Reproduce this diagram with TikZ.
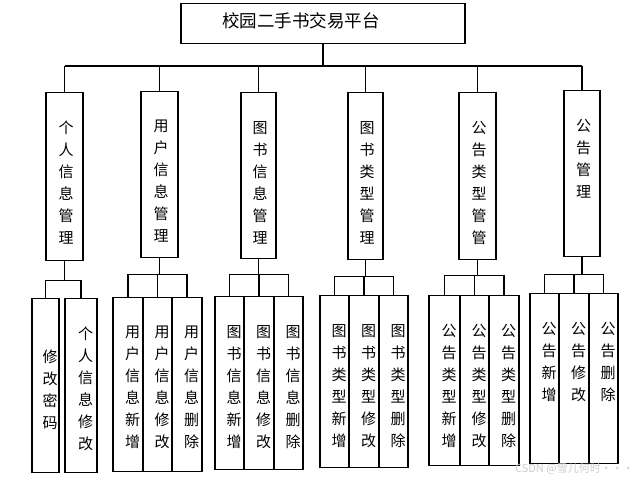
\documentclass[tikz,border=0pt]{standalone}
\usepackage{fontspec}
\setmainfont{Noto Sans CJK SC}
\usepackage{xcolor}
\usetikzlibrary{positioning, calc}
\definecolor{LineBlack}{RGB}{0, 0, 0}
\definecolor{MarkGray}{RGB}{205, 205, 205}

\tikzset{
  box/.style={draw=LineBlack, line width=1.1pt, inner sep=0pt, anchor=north},
  mod/.style={box},
  leaf/.style={box},
  vtext/.style={anchor=north, inner sep=0pt, align=center, yshift=-29pt,
                font=\fontsize{15}{22}\selectfont},
  l1lab/.style={label={[vtext, xshift=1.5pt]north:{#1}}},
  l2lab/.style={label={[vtext, xshift=4.5pt]north:{#1}}},
  link/.style={draw=LineBlack, line width=1.1pt},
}

\begin{document}
\begin{tikzpicture}[x=1pt, y=-1pt]
  \path[use as bounding box, fill=white] (0,0) rectangle (637,480);

  % root
  \node[box, minimum width=284pt, minimum height=40pt,
        label={[font=\fontsize{17.5}{20}\selectfont, xshift=-22pt, yshift=3pt]center:校园二手书交易平台}] (top) at (323,3) {};

  % modules
  \node[mod, minimum width=37pt, minimum height=168pt, l1lab={个\\人\\信\\息\\管\\理}] (geren) at (64.5,92) {};
  \node[mod, minimum width=37pt, minimum height=166pt, l1lab={用\\户\\信\\息\\管\\理}] (yonghu) at (159.5,91) {};
  \node[mod, minimum width=35pt, minimum height=166pt, l1lab={图\\书\\信\\息\\管\\理}] (tushu) at (258.5,92) {};
  \node[mod, minimum width=35pt, minimum height=167pt, l1lab={图\\书\\类\\型\\管\\理}] (leixing) at (365.5,92) {};
  \node[mod, minimum width=37pt, minimum height=167pt, l1lab={公\\告\\类\\型\\管\\管}] (gglx) at (477.5,92) {};
  \node[mod, minimum width=36pt, minimum height=166pt, l1lab={公\\告\\管\\理}] (gonggao) at (582,90) {};

  % functions
  \node[leaf, minimum width=27pt, minimum height=174pt,
        label={[vtext, xshift=4.5pt, yshift=-23pt]north:{修\\改\\密\\码}}] (mima) at (45.5,298) {};
  \node[leaf, minimum width=32pt, minimum height=174pt, l2lab={个\\人\\信\\息\\修\\改}] (grxg) at (81,298) {};

  \node[leaf, minimum width=30pt, minimum height=174pt, l2lab={用\\户\\信\\息\\新\\增}] (yhxz) at (128,297) {};
  \node[leaf, minimum width=29pt, minimum height=174pt, l2lab={用\\户\\信\\息\\修\\改}] (yhxg) at (157.5,297) {};
  \node[leaf, minimum width=30pt, minimum height=174pt, l2lab={用\\户\\信\\息\\删\\除}] (yhsc) at (187,297) {};

  \node[leaf, minimum width=29pt, minimum height=173pt, l2lab={图\\书\\信\\息\\新\\增}] (tsxz) at (229.5,296) {};
  \node[leaf, minimum width=30pt, minimum height=173pt, l2lab={图\\书\\信\\息\\修\\改}] (tsxg) at (259,296) {};
  \node[leaf, minimum width=29pt, minimum height=173pt, l2lab={图\\书\\信\\息\\删\\除}] (tssc) at (288.5,296) {};

  \node[leaf, minimum width=29pt, minimum height=172pt, l2lab={图\\书\\类\\型\\新\\增}] (lxxz) at (334.5,295) {};
  \node[leaf, minimum width=30pt, minimum height=172pt, l2lab={图\\书\\类\\型\\修\\改}] (lxxg) at (364,295) {};
  \node[leaf, minimum width=29pt, minimum height=172pt, l2lab={图\\书\\类\\型\\删\\除}] (lxsc) at (393.5,295) {};

  \node[leaf, minimum width=31pt, minimum height=170pt, l2lab={公\\告\\类\\型\\新\\增}] (gxxz) at (444.5,295) {};
  \node[leaf, minimum width=29pt, minimum height=170pt, l2lab={公\\告\\类\\型\\修\\改}] (gxxg) at (474.5,295) {};
  \node[leaf, minimum width=30pt, minimum height=170pt, l2lab={公\\告\\类\\型\\删\\除}] (gxsc) at (504,295) {};

  \node[leaf, minimum width=29pt, minimum height=170pt, l2lab={公\\告\\新\\增}] (ggxz) at (544.5,293) {};
  \node[leaf, minimum width=30pt, minimum height=170pt, l2lab={公\\告\\修\\改}] (ggxg) at (574,293) {};
  \node[leaf, minimum width=29pt, minimum height=170pt, l2lab={公\\告\\删\\除}] (ggsc) at (603.5,293) {};

  % root to modules
  \coordinate (bus) at (322,66);
  \draw[link] (top.south) -- (top.south |- bus);
  \draw[link] (geren.north |- bus) -- (gonggao.north |- bus);
  \foreach \m in {geren,yonghu,tushu,leixing,gglx,gonggao}
    \draw[link] (\m.north |- bus) -- (\m.north);

  % modules to functions
  \foreach \p/\l/\r/\d in {geren/mima/grxg/19, yonghu/yhxz/yhsc/16, tushu/tsxz/tssc/15,
                           leixing/lxxz/lxsc/16, gglx/gxxz/gxsc/15, gonggao/ggxz/ggsc/17} {
    \draw[link] (\p.south) -- ++(0,\d) coordinate (\p-bus);
    \draw[link] (\l.north |- \p-bus) -- (\r.north |- \p-bus);
  }
  \foreach \c/\p in {mima/geren, grxg/geren, yhxz/yonghu, yhxg/yonghu, yhsc/yonghu,
                     tsxz/tushu, tsxg/tushu, tssc/tushu, lxxz/leixing, lxxg/leixing, lxsc/leixing,
                     gxxz/gglx, gxxg/gglx, gxsc/gglx, ggxz/gonggao, ggxg/gonggao, ggsc/gonggao}
    \draw[link] (\c.north |- \p-bus) -- (\c.north);

  % watermark
  \node[font=\fontsize{11}{13}\selectfont, text=MarkGray, anchor=east, inner sep=0pt] (wm) at (634,469) {CSDN @雪儿何时···};
\end{tikzpicture}
\end{document}
